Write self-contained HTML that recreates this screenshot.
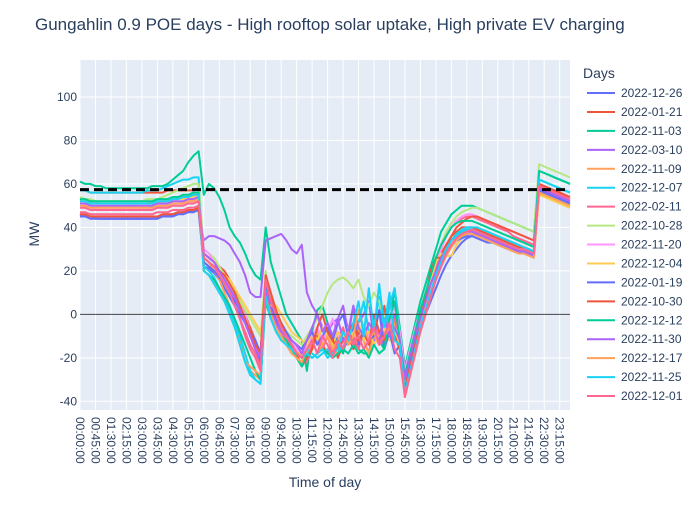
<!DOCTYPE html>
<html><head><meta charset="utf-8"><style>
body{margin:0;background:#fff;font-family:"Liberation Sans",sans-serif}
svg text{font-family:"Liberation Sans",sans-serif;fill:#2a3f5f}
</style></head><body>
<svg id="chart" width="700" height="500">
<rect width="700" height="500" fill="#fff"/>
<text x="35" y="30" font-size="17">Gungahlin 0.9 POE days - High rooftop solar uptake, High private EV charging</text>
<rect x="80" y="60" width="490" height="350" fill="#e5ecf6"/>
<g id="grid"></g><g id="series"></g><g id="axes"></g><g id="legend"></g>
<text x="325" y="487" font-size="14" text-anchor="middle">Time of day</text>
<text transform="translate(39,234) rotate(-90)" font-size="14" text-anchor="middle">MW</text>
</svg>
<script>
const days=["2022-12-26","2022-01-21","2022-11-03","2022-03-10","2022-11-09","2022-12-07","2022-02-11","2022-10-28","2022-11-20","2022-12-04","2022-01-19","2022-10-30","2022-12-12","2022-11-30","2022-12-17","2022-11-25","2022-12-01"];
const colors=["#636efa","#EF553B","#00cc96","#ab63fa","#FFA15A","#19d3f3","#FF6692","#B6E880","#FF97FF","#FECB52","#636efa","#EF553B","#00cc96","#ab63fa","#FFA15A","#19d3f3","#FF6692"];
const yTicks=[-40,-20,0,20,40,60,80,100];
const threshold=57.4;
const s1=[46,45,45,44,44,44,44,44,44,44,44,44,44,44,44,44,45,45,46,46,47,47,48,48,22,21,19,16,12,8,4,0,-4,-10,-16,-22,12,4,-2,-8,-10,-14,-16,-18,-18,-14,-10,-12,-8,-14,-10,-16,-12,-6,-10,-12,-8,-14,-10,-2,-12,-8,-16,-32,-22,-14,-6,0,6,12,18,23,27,30,33,35,36,37,37,36,35,34,33,32,31,30,30,29,28,57,56,55,54,53,52,51];
const s2=[57,57,56,56,56,56,56,56,56,56,56,56,56,56,56,56,56,57,57,57,57,57,57,58,28,26,24,22,20,16,12,6,0,-6,-12,-18,16,8,0,-4,-8,-12,-16,-20,-22,-16,-10,-14,-18,-12,-20,-14,-10,-16,-8,-12,-18,-6,-14,4,-10,0,-16,-30,-18,-8,0,6,14,22,28,32,36,38,40,40,40,39,38,37,36,35,34,33,32,31,31,30,29,59,58,57,56,55,54,53];
const s3=[61,60,60,59,59,58,58,58,58,58,58,58,58,58,59,59,59,60,62,64,66,70,73,75,55,60,58,54,48,40,36,33,28,22,18,16,40,24,16,8,0,-4,-8,-12,-26,-8,2,4,-4,-10,-14,-18,-8,-12,-16,-18,-18,-10,-12,-16,-6,12,-6,-24,-14,-4,6,14,22,30,38,42,46,48,50,50,50,49,48,47,46,45,44,43,42,41,40,39,38,66,65,64,63,62,61,60];
const s4=[46,45,45,45,44,44,44,44,44,44,44,44,44,44,44,45,45,46,46,47,47,48,48,48,34,36,36,35,34,32,28,24,18,10,8,8,34,35,36,37,34,30,28,32,10,4,0,-6,-8,-4,-2,4,-8,-10,-4,0,6,-12,-10,-14,8,-2,-10,-34,-20,-10,-2,6,14,20,26,30,34,36,37,38,38,38,37,36,35,34,33,32,31,30,30,29,28,58,57,56,55,54,53,52];
const s5=[53,52,52,52,51,51,51,51,51,51,51,51,51,51,52,52,52,53,53,54,54,55,55,56,26,24,20,16,10,4,-4,-12,-22,-26,-28,-30,6,-2,-6,-10,-12,-14,-16,-20,-18,-12,-8,-14,-10,-16,-18,-12,-10,-14,-6,-12,-18,-10,-14,-8,-12,-4,-10,-38,-28,-18,-8,0,8,16,22,28,32,35,37,38,38,37,36,35,34,33,32,31,30,29,29,28,27,56,55,54,53,52,51,50];
const s6=[57,57,56,56,56,56,56,56,56,56,56,56,56,57,57,57,58,59,60,61,62,62,63,63,22,20,17,12,8,2,-4,-10,-18,-26,-30,-32,12,0,-6,-10,-12,-16,-18,-20,-16,-18,-20,-18,-16,-20,-18,-14,-6,-10,-4,6,-8,-6,8,-14,4,12,-10,-34,-26,-16,-6,2,10,18,24,30,34,37,39,40,40,40,39,38,37,36,35,34,33,32,31,30,29,62,61,60,59,58,57,56];
const s7=[47,47,46,46,46,46,46,46,46,46,46,46,46,46,46,47,47,47,48,48,48,49,49,50,24,22,20,17,14,10,4,-2,-8,-14,-18,-24,10,2,-4,-8,-12,-14,-18,-20,-22,-14,-12,-16,-10,-18,-12,-6,-14,-10,-16,-8,-12,-4,-10,-14,-8,-2,-12,-28,-18,-10,-2,6,14,22,30,36,40,43,44,45,45,44,43,42,41,40,39,38,36,35,34,33,32,60,59,58,57,56,55,54];
const s8=[54,53,53,52,52,52,52,52,52,52,52,52,52,53,53,53,54,55,56,57,58,59,60,60,30,28,26,22,18,14,10,6,2,-2,-6,-10,20,6,0,-4,-8,-10,-12,-14,-10,-6,-2,4,10,14,16,17,15,12,16,8,4,10,6,-2,-12,-6,-10,-26,-16,-8,0,8,16,24,32,38,42,45,47,48,49,49,48,47,46,45,44,43,42,41,40,39,38,69,68,67,66,65,64,63];
const s9=[50,50,49,49,49,49,49,49,49,49,49,49,49,49,49,50,50,50,51,51,52,52,53,53,30,28,24,20,16,12,8,4,0,-8,-14,-20,8,0,-4,-8,-10,-12,-16,-18,-14,-10,-6,-12,-8,-2,-10,-14,-8,-4,-12,-6,-10,-2,-8,-12,-6,4,-8,-26,-16,-6,2,10,16,24,30,36,40,43,45,46,46,45,44,43,42,41,40,39,38,37,36,35,34,60,59,58,57,56,55,54];
const s10=[52,52,51,51,51,51,51,51,51,51,51,51,51,51,51,52,52,52,53,53,53,54,54,55,26,24,22,20,18,16,12,8,4,0,-4,-8,6,4,4,0,-4,-8,-10,-12,-14,-8,-12,-6,-10,-14,-8,-12,-6,-10,-4,-12,-8,-14,-10,-6,-12,-8,-14,-32,-22,-12,-4,4,14,24,28,27,27,32,35,37,38,38,37,36,35,34,33,32,31,30,30,29,28,55,54,53,52,51,50,49];
const s11=[45,45,44,44,44,44,44,44,44,44,44,44,44,44,44,44,45,45,45,46,46,47,47,48,24,22,20,17,14,10,6,2,-2,-8,-12,-18,14,6,0,-4,-8,-12,-14,-16,-12,-8,-14,-10,-6,-12,-4,0,-10,4,-14,-8,-12,-10,2,-16,-8,-18,-14,-30,-22,-14,-6,2,10,16,22,27,31,34,35,36,36,35,34,33,33,32,31,30,29,29,28,28,27,57,56,55,54,53,52,51];
const s12=[46,46,45,45,45,45,45,45,45,45,45,45,45,45,45,45,46,46,46,47,47,48,48,49,26,24,22,20,18,14,10,4,-2,-8,-14,-18,18,10,2,-4,-10,-14,-18,-24,-20,-16,-6,0,-8,-12,-16,-12,-8,-4,-12,-8,-14,0,-8,-12,-6,-10,-16,-34,-24,-14,0,8,20,26,26,30,36,40,42,44,45,45,44,43,42,41,40,39,38,37,36,35,34,60,59,58,57,56,55,54];
const s13=[53,53,52,52,52,52,52,52,52,52,52,52,52,52,52,53,53,53,54,54,55,55,56,56,20,18,16,12,8,4,-2,-8,-14,-20,-26,-30,6,-2,-6,-10,-12,-16,-20,-24,-18,-20,-18,-16,-18,-20,-18,-16,-18,-14,-18,-16,-20,-14,-18,-16,-2,6,-12,-28,-18,-8,2,10,18,26,32,36,40,42,43,43,43,42,41,40,39,38,37,36,35,34,33,32,31,66,65,64,63,62,61,60];
const s14=[51,51,50,50,50,50,50,50,50,50,50,50,50,50,50,51,51,51,52,52,52,53,53,54,28,26,24,20,16,12,8,2,-4,-10,-16,-20,10,2,-4,-8,-10,-12,-14,-18,-12,-6,0,-8,-4,-10,-2,-12,-8,4,-6,-10,-4,-8,-12,-2,-10,-6,-12,-30,-20,-10,-2,6,14,20,26,30,34,36,37,38,38,37,36,35,34,33,32,31,30,29,29,28,27,58,57,56,55,54,53,52];
const s15=[50,50,49,49,49,49,49,49,49,49,49,49,49,49,49,50,50,50,51,51,51,52,52,53,20,18,14,10,6,0,-6,-14,-22,-24,-26,-28,8,0,-6,-10,-14,-18,-20,-22,-16,-12,-18,-14,-10,-16,-12,-8,-14,-10,2,-6,-12,-8,-14,-10,-6,-12,-14,-36,-28,-18,-8,0,8,16,22,27,31,34,36,37,37,36,35,34,33,32,31,30,29,28,28,27,26,56,55,54,53,52,51,50];
const s16=[52,52,51,51,51,51,51,51,51,51,51,51,51,51,51,52,52,52,53,53,54,54,55,55,20,18,14,10,6,0,-6,-14,-22,-28,-30,-32,8,-2,-8,-12,-14,-16,-18,-20,-18,-20,-18,-16,-20,-18,-16,-8,-12,-4,6,-10,12,-8,14,-6,10,-12,-14,-36,-26,-16,-6,2,10,18,24,30,34,36,38,39,39,38,37,36,35,34,33,32,31,30,30,29,28,62,61,60,59,58,57,56];
const s17=[49,49,48,48,48,48,48,48,48,48,48,48,48,48,48,49,49,49,50,50,50,51,51,52,26,24,22,18,14,10,4,-2,-10,-16,-20,-26,16,6,0,-6,-10,-14,-18,-20,-16,-12,-18,-10,-14,-20,-12,-16,-8,-14,-10,-16,-12,-6,-14,-10,-4,-16,-20,-38,-28,-18,-8,0,8,16,22,28,32,35,37,38,39,38,37,36,35,34,33,32,31,30,30,29,28,59,58,57,56,55,54,53];
const seriesValues=[s1,s2,s3,s4,s5,s6,s7,s8,s9,s10,s11,s12,s13,s14,s15,s16,s17];

const NS="http://www.w3.org/2000/svg";
const X0=80,X1=570,Y0=410,Y1=60,YMIN=-44,YMAX=117,N=96;
function xs(i){return X0+i*(X1-X0)/(N-1);}
function ys(v){return Y0-(v-YMIN)*(Y0-Y1)/(YMAX-YMIN);}
function mk(t,a,p){const e=document.createElementNS(NS,t);for(const k in a)e.setAttribute(k,a[k]);p.appendChild(e);return e;}
const grid=document.getElementById('grid'),axes=document.getElementById('axes'),ser=document.getElementById('series'),leg=document.getElementById('legend');
function lab(i){const m=i*15,h=Math.floor(m/60),mm=m%60;return String(h).padStart(2,'0')+':'+String(mm).padStart(2,'0')+':00';}
for(let i=0;i<N;i+=3){
  const x=xs(i);
  const gl=mk('line',{x1:x,x2:x,y1:Y1,y2:Y0,stroke:'#fff','stroke-width':1},grid);
  
  
  const t=mk('text',{transform:`translate(${x-4},${Y0+7}) rotate(90)`,'font-size':12},axes);
  t.textContent=lab(i);
  
  
}
yTicks.forEach(v=>{
  const y=ys(v);
  const gl=mk('line',{x1:X0,x2:X1,y1:y,y2:y,stroke:v===0?'#444':'#fff','stroke-width':v===0?1:1},v===0?axes:grid);
  
  
  const t=mk('text',{x:X0-3,y:y+4,'font-size':12,'text-anchor':'end'},axes);
  t.textContent=v;
  
  
});
seriesValues.forEach((arr,k)=>{
  const d=arr.map((v,i)=>(i?'L':'M')+xs(i).toFixed(1)+','+ys(v).toFixed(1)).join('');
  const p=mk('path',{d:d,fill:'none',stroke:colors[k],'stroke-width':2,'stroke-linejoin':'round'},ser);
  
  
  const y=93+k*18.94;
  const g=mk('g',{},leg);
  
  
  mk('line',{x1:587,x2:615,y1:y,y2:y,stroke:colors[k],'stroke-width':2},g);
  const t=mk('text',{x:621,y:y+4,'font-size':12},g);
  t.textContent=days[k];
});
const th=mk('line',{x1:X0,x2:X1,y1:ys(threshold),y2:ys(threshold),stroke:'#000','stroke-width':3,'stroke-dasharray':'9,5'},ser);


const lt=mk('text',{x:583,y:78,'font-size':14},leg);
lt.textContent='Days';


</script>
</body></html>
